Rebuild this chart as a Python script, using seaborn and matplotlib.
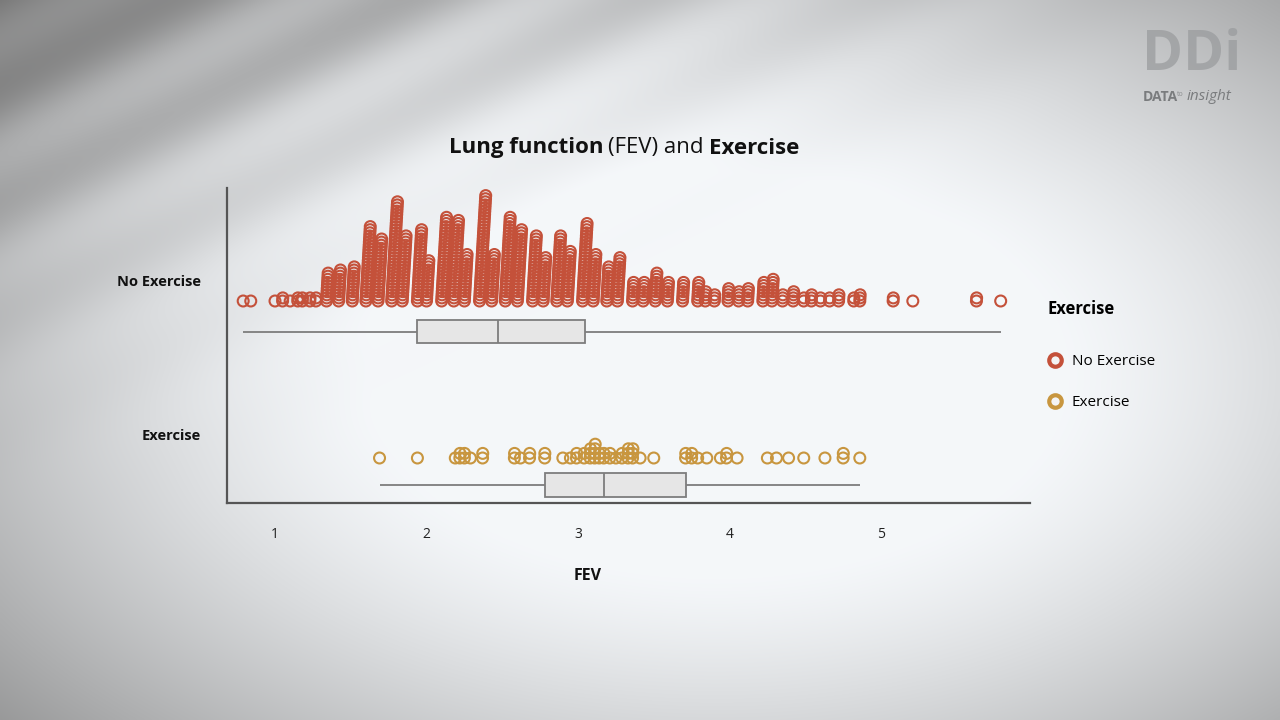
import numpy as np
import pandas as pd
import matplotlib
matplotlib.use("Agg")
import matplotlib.pyplot as plt
from matplotlib.lines import Line2D
import seaborn as sns

# stacked dot columns: FEV value of each column and number of children in it
no_ex_fev = [0.79, 0.84, 1.00, 1.05, 1.10, 1.15, 1.18, 1.23, 1.27,
             1.34, 1.42, 1.51, 1.60, 1.68, 1.77, 1.84, 1.94, 2.00, 2.10,
             2.18, 2.25, 2.35, 2.43, 2.52, 2.60, 2.70, 2.77, 2.86, 2.93,
             3.03, 3.10, 3.19, 3.26, 3.36, 3.43, 3.51, 3.59, 3.69, 3.79,
             3.84, 3.90, 3.99, 4.06, 4.12, 4.22, 4.28, 4.35, 4.42, 4.49,
             4.54, 4.60, 4.66, 4.72, 4.82, 4.86, 5.08, 5.21, 5.63, 5.79]
no_ex_count = [1, 1, 1, 2, 1, 2, 2, 2, 2,
               10, 11, 12, 25, 21, 33, 22, 24, 14, 28,
               27, 16, 35, 16, 28, 24, 22, 15, 22, 17,
               26, 16, 12, 15, 7, 7, 10, 7, 7, 7,
               4, 3, 5, 4, 5, 7, 8, 3, 4, 2,
               3, 2, 2, 3, 2, 3, 2, 1, 2, 1]

ex_fev = [1.69, 1.94, 2.19, 2.22, 2.25, 2.29, 2.37, 2.58, 2.62, 2.68,
          2.78, 2.90, 2.95, 2.99, 3.04, 3.08, 3.11, 3.14, 3.17, 3.21,
          3.25, 3.29, 3.33, 3.36, 3.41, 3.50, 3.71, 3.75, 3.79, 3.85,
          3.94, 3.98, 4.05, 4.25, 4.31, 4.39, 4.49, 4.63, 4.75, 4.86]
ex_count = [1, 1, 1, 2, 2, 1, 2, 2, 1, 2,
            2, 1, 1, 2, 2, 3, 4, 2, 2, 2,
            1, 2, 3, 3, 1, 1, 2, 2, 1, 1,
            1, 2, 1, 1, 1, 1, 1, 1, 2, 1]

groups = ["No Exercise", "Exercise"]
palette = {"No Exercise": "#c4513a", "Exercise": "#c8963f"}

# layout (y axis runs in pixel rows of the 1280x720 frame)
dot_base = {"No Exercise": 301, "Exercise": 458}
dot_step = {"No Exercise": 3.1, "Exercise": 4.6}
box_row = {"No Exercise": 331.5, "Exercise": 485}

# expand columns into one row per child
rows = []
for g, vals, cnts in [("No Exercise", no_ex_fev, no_ex_count),
                      ("Exercise", ex_fev, ex_count)]:
    for v, n in zip(vals, cnts):
        for k in range(n):
            rows.append({"group": g, "fev": v,
                         "x_dot": v + k * 0.0012,
                         "y_dot": dot_base[g] - k * dot_step[g],
                         "y_box": box_row[g]})
df = pd.DataFrame(rows)

fig = plt.figure(figsize=(12.8, 7.2), dpi=100)

# photographic grey backdrop
h, w = 360, 640
yy, xx = np.mgrid[0:1:h * 1j, 0:1:w * 1j]
r = np.sqrt(((xx - 0.56) / 0.60) ** 2 + ((yy - 0.52) / 0.62) ** 2)
light = 1.0 - 0.55 * np.clip(r - 0.45, 0, None) ** 1.3
diag = xx * 0.9 + yy
streak = 0.06 * np.sin(diag * 38) * np.exp(-((diag - 0.25) / 0.35) ** 2) * np.exp(-(yy / 0.45) ** 2)
light = np.clip(light - 0.10 * np.exp(-(diag / 0.35) ** 2) + streak, 0, 1)
img = np.dstack([0.93 * light + 0.03, 0.95 * light + 0.02, 0.97 * light + 0.01])
img = np.clip(img, 0, 1)
bg = fig.add_axes([0, 0, 1, 1], zorder=-5)
bg.imshow(img, aspect="auto", extent=[0, 1, 0, 1], interpolation="bilinear")
bg.axis("off")

plt.rcParams["font.family"] = ["Open Sans", "DejaVu Sans"]

ax = fig.add_axes([227 / 1280, 217 / 720, 803 / 1280, 315 / 720])
ax.set_facecolor("none")

sns.boxplot(data=df, x="fev", y="y_box", orient="h", native_scale=True,
            whis=(0, 100), width=0.15, showfliers=False, showcaps=False,
            color="#e6e6e6", linecolor="#7d7d7d", linewidth=1.3,
            saturation=1, ax=ax)

n_before = len(ax.collections)
sns.scatterplot(data=df, x="x_dot", y="y_dot", hue="group", palette=palette,
                s=62, linewidth=1.5, legend=False, ax=ax)
for pc in ax.collections[n_before:]:
    pc.set_edgecolors(pc.get_facecolors())
    pc.set_facecolors("none")

ax.set_xlim(1 + (227 - 275) / 151.5, 1 + (1030 - 275) / 151.5)
ax.set_ylim(503, 188)
ax.set_xticks([1, 2, 3, 4, 5])
ax.set_xticklabels(["1", "2", "3", "4", "5"], fontsize=10, color="#222222")
ax.set_yticks([281, 434])
ax.set_yticklabels(groups, fontsize=10.5, fontweight="bold", color="#111111")
ax.tick_params(axis="both", length=0)
ax.tick_params(axis="x", pad=17)
ax.tick_params(axis="y", pad=19)
ax.set_xlabel("FEV", fontsize=11.5, fontweight="bold", color="#111111", labelpad=19)
ax.xaxis.label.set_x((588 - 227) / 803)
ax.set_ylabel("")
for side in ["top", "right"]:
    ax.spines[side].set_visible(False)
for side in ["left", "bottom"]:
    ax.spines[side].set_color("#555555")
    ax.spines[side].set_linewidth(1.6)

# title with mixed weights
renderer = fig.canvas.get_renderer()
parts = [("Lung function", "bold"), ("(FEV) and", "normal"), ("Exercise", "bold")]
texts = [fig.text(0, 1 - 148 / 720, s, fontsize=16, fontweight=wt,
                  color="#111111", va="center", ha="left") for s, wt in parts]
widths = [t.get_window_extent(renderer).width for t in texts]
gap = 5
x0 = 624 - (sum(widths) + gap * (len(widths) - 1)) / 2
for t, wd in zip(texts, widths):
    t.set_x(x0 / 1280)
    x0 += wd + gap

# legend
handles = [Line2D([], [], linestyle="none", marker="o", markersize=9,
                  markeredgewidth=3, markeredgecolor=palette[g],
                  markerfacecolor="#f4f4f4") for g in groups]
leg = fig.legend(handles, groups, title="Exercise", loc="upper left",
                 bbox_to_anchor=(1041 / 1280, 1 - 294 / 720), frameon=False,
                 fontsize=11, labelspacing=1.7, handlelength=1.0,
                 handletextpad=0.6, borderaxespad=0)
leg.get_title().set_fontweight("bold")
leg.get_title().set_fontsize(12)
leg._legend_box.align = "left"
leg._legend_box.sep = 26

# logo
fig.text(1192 / 1280, 1 - 55 / 720, "DDi", fontsize=40, fontweight="bold",
         color="#9a9c9e", ha="center", va="center", alpha=0.75)
fig.text(1143 / 1280, 1 - 97 / 720, "DATA", fontsize=10, fontweight="bold",
         color="#7a7c7e", ha="left", va="center")
fig.text(1177 / 1280, 1 - 94 / 720, "to", fontsize=5, color="#8a8c8e",
         ha="left", va="center")
fig.text(1187 / 1280, 1 - 97 / 720, "insight", fontsize=11, style="italic",
         color="#7a7c7e", ha="left", va="center")

fig.savefig("out.png", dpi=100)
